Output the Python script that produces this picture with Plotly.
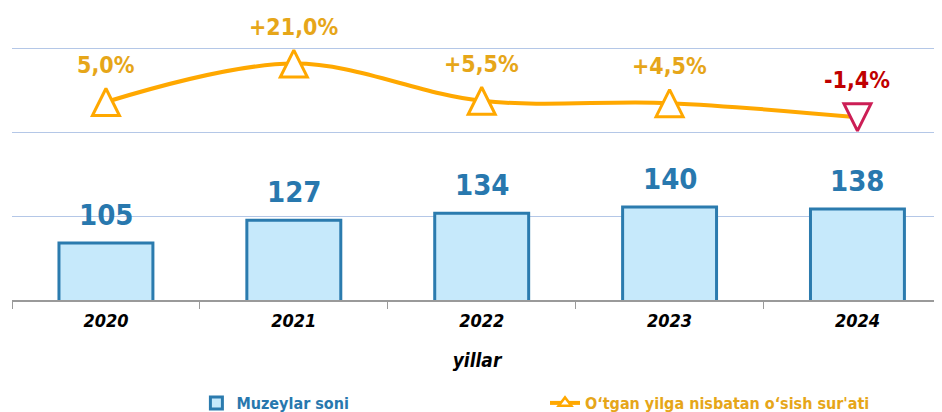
import plotly.graph_objects as go

years = ["2020", "2021", "2022", "2023", "2024"]
museums = [105, 127, 134, 140, 138]
growth = [5.0, 21.0, 5.5, 4.5, -1.4]
growth_labels = ["5,0%", "+21,0%", "+5,5%", "+4,5%", "-1,4%"]
bar_labels = [str(v) for v in museums]

FONT = "DejaVu Sans Condensed"
ORANGE = "#FFA800"
GOLD = "#E6A619"
RED_TXT = "#C00000"
RED_MK = "#CC1E55"
BAR_FILL = "#C6E9FB"
BAR_EDGE = "#2B7BAE"
BAR_TXT = "#2878AE"
GRID = "#B4C7E7"

W, H = 934, 404

fig = go.Figure()

fig.add_trace(go.Bar(
    x=years, y=museums, name="Muzeylar soni",
    marker=dict(color=BAR_FILL, line=dict(color=BAR_EDGE, width=3)),
    width=0.5, legend="legend", yaxis="y",
))

mk_color = [ORANGE if g >= 0 else RED_MK for g in growth]
mk_angle = [180 if g >= 0 else 0 for g in growth]
msize = 27
# growth line
fig.add_trace(go.Scatter(
    x=years, y=growth, yaxis="y2", mode="lines",
    line=dict(color=ORANGE, width=4, shape="spline", smoothing=1),
    showlegend=False, hoverinfo="skip",
))
# growth markers (up for growth, down for decline)
fig.add_trace(go.Scatter(
    x=years, y=growth, yaxis="y2", mode="markers",
    marker=dict(symbol="arrow-down", size=msize, angle=mk_angle, standoff=msize / 2,
                color="white", line=dict(color=mk_color, width=3)),
    showlegend=False,
))
# legend entry for the growth series
fig.add_trace(go.Scatter(
    x=[None], y=[None], yaxis="y2", mode="lines+markers",
    name="O\u02bbtgan yilga nisbatan o\u02bbsish sur'ati",
    line=dict(color=ORANGE, width=4),
    marker=dict(symbol="triangle-up", size=11, color="white", line=dict(color=ORANGE, width=2.5)),
    legend="legend2",
))

annotations = []
# category axis: annotations are positioned by category index
for i, (v, t) in enumerate(zip(museums, bar_labels)):
    annotations.append(dict(x=i, y=v, xref="x", yref="y", text=t, showarrow=False,
                            yanchor="bottom", yshift=9,
                            font=dict(family=FONT, size=29, color=BAR_TXT, weight="bold")))
for i, (v, t) in enumerate(zip(growth, growth_labels)):
    annotations.append(dict(x=i, y=v, xref="x", yref="y2", text=t, showarrow=False,
                            yanchor="middle", yshift=37,
                            font=dict(family=FONT, size=23, color=(GOLD if v >= 0 else RED_TXT),
                                      weight="bold")))

fig.update_layout(
    width=W, height=H,
    margin=dict(l=4, r=0, t=2, b=112),
    paper_bgcolor="white", plot_bgcolor="white",
    bargap=0.5,
    showlegend=True,
    xaxis=dict(
        type="category", range=[-0.5, 4.45],
        showline=True, linecolor="#9A9A9A", linewidth=1.5,
        ticks="outside", tickson="boundaries", ticklen=7, tickcolor="#9A9A9A",
        ticklabelstandoff=4,
        showgrid=False,
        tickfont=dict(family=FONT, size=18, color="black", weight="bold", style="italic"),
        title=dict(text="yillar", standoff=23,
                   font=dict(family=FONT, size=19, color="black", weight="bold", style="italic")),
    ),
    yaxis=dict(
        range=[49.6, 331.4], tick0=49.6, dtick=81.6, showgrid=True, gridcolor=GRID,
        gridwidth=1, showticklabels=False, zeroline=False, showline=False, ticks="",
    ),
    yaxis2=dict(
        range=[-77.5, 43.33], overlaying="y", showgrid=False, showticklabels=False,
        zeroline=False, showline=False, ticks="",
    ),
    legend=dict(orientation="h", xref="container", yref="container", x=188.4 / W, y=9 / H,
                xanchor="left", yanchor="middle",
                font=dict(family=FONT, size=16, color=BAR_TXT, weight="bold")),
    legend2=dict(orientation="h", xref="container", yref="container", x=537 / W, y=9 / H,
                 xanchor="left", yanchor="middle",
                 font=dict(family=FONT, size=16, color=GOLD, weight="bold")),
    annotations=annotations,
)

fig.write_html("out.html")
